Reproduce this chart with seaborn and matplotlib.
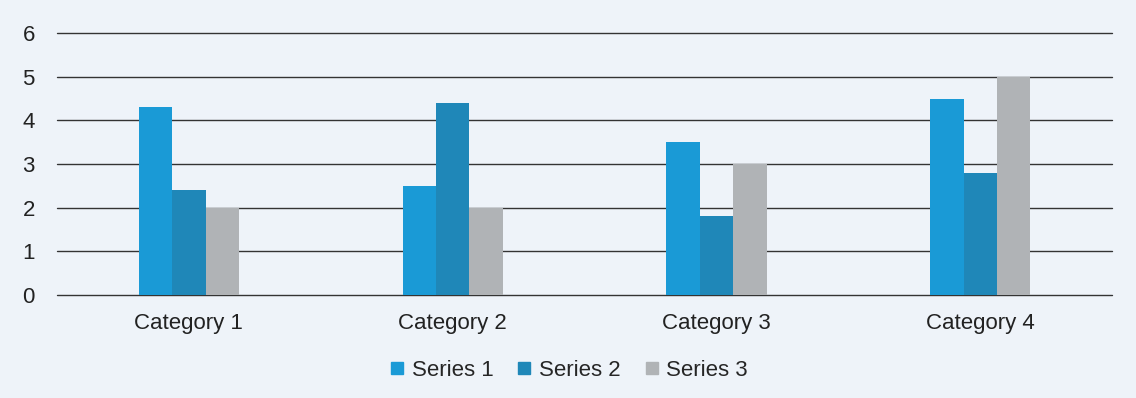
import matplotlib
matplotlib.use("Agg")
import matplotlib.pyplot as plt
from matplotlib.lines import Line2D
import seaborn as sns
import pandas as pd

categories = ["Category 1", "Category 2", "Category 3", "Category 4"]
series_names = ["Series 1", "Series 2", "Series 3"]
series1 = [4.3, 2.5, 3.5, 4.5]
series2 = [2.4, 4.4, 1.8, 2.8]
series3 = [2.0, 2.0, 3.0, 5.0]
colors = ["#1a9ad6", "#1f87b8", "#b0b3b6"]

rows = []
for name, vals in zip(series_names, [series1, series2, series3]):
    for c, v in zip(categories, vals):
        rows.append({"category": c, "series": name, "value": v})
df = pd.DataFrame(rows)

sns.set_theme(style="white")
plt.rcParams["font.family"] = ["Liberation Sans", "DejaVu Sans"]

bg = "#eef3f9"
fig = plt.figure(figsize=(11.36, 3.98), dpi=100, facecolor=bg)
ax = fig.add_axes([0.0502, 0.2588, 0.979 - 0.0502, 0.917 - 0.2588])
ax.set_facecolor(bg)

sns.barplot(data=df, x="category", y="value", hue="series", palette=colors,
            width=0.38, gap=0, saturation=1, ax=ax, legend=False, zorder=3,
            linewidth=0, edgecolor="none")

ax.set_ylim(0, 6)
ax.set_yticks(range(0, 7))
ax.yaxis.grid(True, color="#333333", linewidth=1.0, zorder=0)
for gl in ax.get_ygridlines():
    gl.set_clip_on(False)
ax.set_axisbelow(True)
for s in ax.spines.values():
    s.set_visible(False)
ax.set_xlabel("")
ax.set_ylabel("")
ax.tick_params(axis="both", length=0, labelsize=16, colors="#222222")
ax.tick_params(axis="y", pad=16)
ax.tick_params(axis="x", pad=13)

handles = [Line2D([0], [0], marker="s", linestyle="none", markersize=9,
                  markerfacecolor=c, markeredgecolor=c) for c in colors]
fig.legend(handles, series_names, loc="center", bbox_to_anchor=(0.5, 0.07),
           ncol=3, frameon=False, fontsize=16, handletextpad=0.25,
           columnspacing=1.0, handlelength=0.8)

fig.savefig("out.png", dpi=100, facecolor=bg)
